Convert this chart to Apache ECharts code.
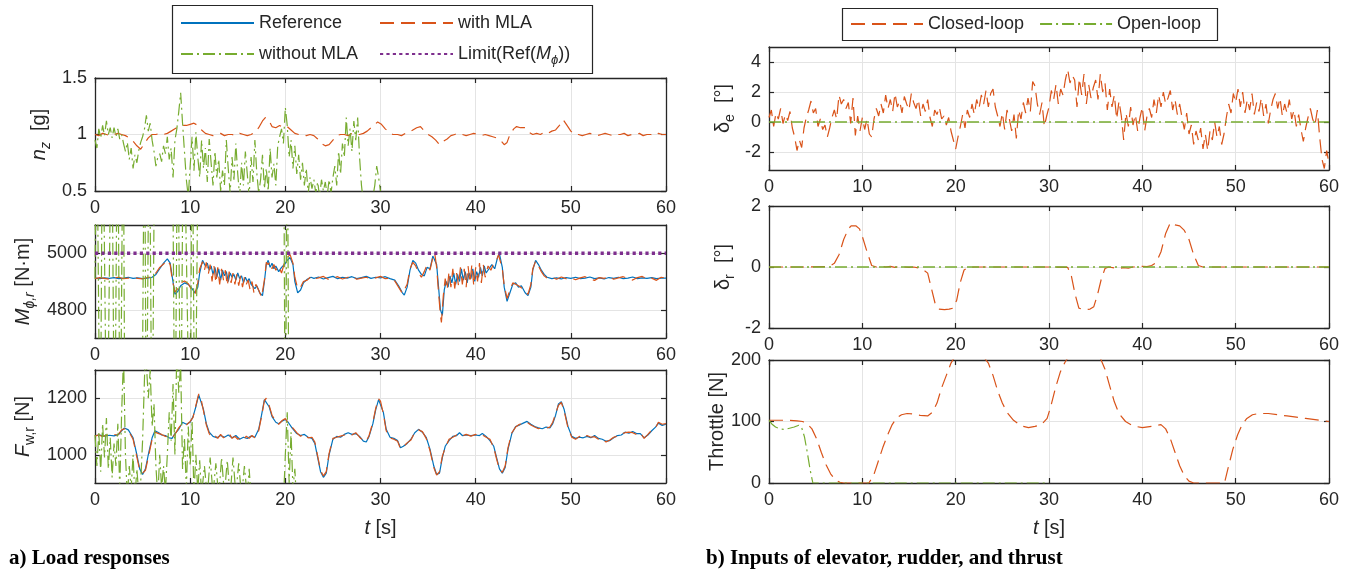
<!DOCTYPE html>
<html>
<head>
<meta charset="utf-8">
<script src="https://cdn.jsdelivr.net/npm/echarts@6/dist/echarts.min.js"></script>
<style>
  html, body { margin: 0; padding: 0; background: #ffffff; }
  #chart { width: 1358px; height: 574px; }
</style>
</head>
<body>
<div id="chart"></div>
<script>
// ---------- time histories [t (s), value] ----------

// normal load factor n_z [g]
const nzWithMLA = [[0,1.00],[0.4,0.99],[0.8,1.01],[1.2,1.00],[1.6,0.99],[2.0,1.00],[2.4,1.01],[2.8,1.00],[3.2,0.99],[3.6,0.97],[4.0,0.94],[4.4,0.90],[4.8,0.87],[5.2,0.92],[5.6,0.97],[6.0,1.00],[6.4,1.00],[6.8,1.01],[7.2,1.00],[7.6,1.01],[8.0,1.03],[8.4,1.05],[8.8,1.07],[9.2,1.08],[9.6,1.08],[10.0,1.09],[10.4,1.10],[10.8,1.08],[11.2,1.04],[11.6,1.01],[12.0,1.00],[12.4,0.99],[12.8,1.00],[13.2,1.01],[13.6,0.99],[14.0,1.00],[14.4,1.00],[14.8,0.99],[15.2,1.01],[15.6,1.00],[16.0,0.99],[16.4,1.00],[16.8,1.02],[17.2,1.06],[17.6,1.12],[17.9,1.15],[18.3,1.12],[18.6,1.07],[19.0,1.06],[19.4,1.08],[19.8,1.06],[20.2,1.07],[20.6,1.04],[21.0,1.01],[21.4,1.00],[21.8,1.00],[22.2,0.99],[22.6,1.00],[23.0,0.99],[23.4,0.96],[23.8,0.92],[24.2,0.90],[24.6,0.91],[25.0,0.95],[25.4,0.99],[25.8,1.00],[26.2,1.00],[26.6,0.99],[27.0,1.01],[27.4,1.00],[27.8,1.00],[28.2,1.01],[28.6,1.03],[29.0,1.06],[29.4,1.09],[29.7,1.11],[30.1,1.09],[30.5,1.05],[30.9,1.02],[31.3,1.00],[31.8,1.00],[32.2,0.99],[32.6,1.01],[33.0,1.02],[33.4,1.04],[33.8,1.06],[34.2,1.07],[34.6,1.03],[35.0,1.00],[35.4,0.98],[35.8,0.95],[36.2,0.91],[36.6,0.94],[37.0,0.96],[37.4,0.99],[37.8,1.00],[38.2,1.01],[38.6,1.00],[39.0,0.99],[39.4,1.00],[39.8,1.01],[40.2,1.00],[40.6,0.99],[41.0,1.00],[41.4,0.99],[41.8,0.98],[42.2,0.97],[42.6,0.95],[43.0,0.91],[43.3,0.93],[43.6,1.00],[44.0,1.05],[44.3,1.07],[44.7,1.06],[45.2,1.06],[45.6,1.02],[46.0,1.00],[46.4,1.01],[46.8,1.00],[47.2,1.02],[47.6,1.01],[48.0,1.03],[48.4,1.04],[48.8,1.08],[49.2,1.13],[49.6,1.08],[50.0,1.03],[50.4,1.00],[50.8,1.00],[51.2,0.99],[51.6,1.00],[52.0,1.01],[52.4,1.00],[52.8,0.99],[53.2,1.00],[53.6,1.01],[54.0,1.00],[54.4,0.99],[54.8,1.00],[55.2,1.00],[55.6,1.01],[56.0,0.99],[56.4,1.00],[56.8,1.00],[57.2,1.01],[57.6,0.99],[58.0,1.00],[58.4,1.00],[58.8,0.99],[59.2,1.01],[59.6,1.00],[60,1.00]];

const nzWithoutMLA = [[0,0.95],[0.2,0.88],[0.4,1.05],[0.6,0.97],[0.8,1.08],[1.0,0.99],[1.2,1.12],[1.4,1.00],[1.6,1.06],[1.8,0.97],[2.0,1.06],[2.2,0.98],[2.4,1.05],[2.6,0.96],[2.8,1.00],[3.0,0.92],[3.2,0.85],[3.4,0.93],[3.6,0.78],[3.8,0.88],[4.0,0.70],[4.2,0.82],[4.4,0.75],[4.6,0.86],[4.8,0.93],[5.0,0.98],[5.2,1.05],[5.4,1.17],[5.6,1.03],[5.8,1.10],[6.0,0.95],[6.2,0.85],[6.4,0.72],[6.6,0.80],[6.8,0.83],[7.0,0.76],[7.2,0.90],[7.4,0.83],[7.6,0.98],[7.8,0.78],[8.0,0.88],[8.2,0.62],[8.4,0.95],[8.6,1.05],[8.8,1.20],[9.0,1.37],[9.2,1.10],[9.4,0.85],[9.6,0.60],[9.8,0.45],[10.0,0.72],[10.2,0.98],[10.4,0.68],[10.6,1.02],[10.8,0.80],[11.0,0.62],[11.2,0.95],[11.4,0.70],[11.6,0.88],[11.8,0.58],[12.0,0.96],[12.2,0.75],[12.4,0.55],[12.6,0.85],[12.8,0.62],[13.0,0.78],[13.2,0.50],[13.4,0.68],[13.6,0.55],[13.8,0.95],[14.0,0.70],[14.2,0.48],[14.4,0.80],[14.6,0.60],[14.8,0.92],[15.0,0.65],[15.2,0.45],[15.4,0.75],[15.6,0.55],[15.8,0.85],[16.0,0.65],[16.2,0.45],[16.4,0.80],[16.6,0.58],[16.8,0.95],[17.0,0.66],[17.2,0.48],[17.4,0.60],[17.6,0.82],[17.8,0.52],[18.0,0.70],[18.2,0.50],[18.4,0.88],[18.6,0.62],[18.8,0.74],[19.0,0.55],[19.2,0.90],[19.4,0.98],[19.6,1.05],[19.8,0.92],[20.0,1.24],[20.2,1.08],[20.4,0.80],[20.6,0.95],[20.8,0.70],[21.0,0.90],[21.2,0.65],[21.4,0.82],[21.6,0.60],[21.8,0.75],[22.0,0.55],[22.2,0.70],[22.4,0.48],[22.6,0.62],[22.8,0.52],[23.0,0.60],[23.2,0.48],[23.4,0.58],[23.6,0.45],[23.8,0.60],[24.0,0.50],[24.2,0.58],[24.4,0.46],[24.6,0.60],[24.8,0.48],[25.0,0.62],[25.2,0.72],[25.4,0.55],[25.6,0.85],[25.8,0.65],[26.0,0.92],[26.2,0.80],[26.4,1.15],[26.6,0.90],[26.8,1.05],[27.0,0.85],[27.2,1.12],[27.4,0.95],[27.6,1.15],[27.8,0.80],[28.0,0.55],[28.2,0.40],[28.4,0.45],[28.6,0.35],[28.8,0.42],[29.0,0.38],[29.2,0.45],[29.4,0.55],[29.6,0.72],[29.8,0.62],[30.0,0.50]];

// roll moment M_phi,r [N·m]
const mReference = [[0,4912],[0.5,4910],[1,4913],[1.5,4911],[2,4914],[2.5,4910],[3,4912],[3.5,4915],[4,4911],[4.5,4913],[5,4910],[5.5,4912],[6,4915],[6.4,4925],[6.8,4945],[7.2,4965],[7.6,4980],[7.9,4965],[8.1,4920],[8.4,4855],[8.7,4865],[9.0,4885],[9.4,4895],[9.8,4890],[10.2,4875],[10.5,4860],[10.8,4880],[11.0,4930],[11.3,4975],[11.6,4955],[11.8,4965],[12.0,4940],[12.2,4955],[12.4,4925],[12.6,4950],[12.8,4915],[13.0,4945],[13.2,4905],[13.4,4940],[13.6,4920],[13.8,4935],[14.0,4900],[14.2,4930],[14.4,4915],[14.6,4925],[14.8,4905],[15.0,4930],[15.2,4910],[15.4,4920],[15.6,4895],[15.8,4915],[16.0,4900],[16.2,4910],[16.4,4890],[16.6,4895],[16.8,4875],[17.0,4885],[17.3,4860],[17.6,4850],[17.8,4900],[18.0,4960],[18.2,4975],[18.4,4950],[18.6,4965],[18.8,4945],[19.0,4955],[19.3,4935],[19.6,4950],[19.9,4960],[20.2,4975],[20.5,4985],[20.8,4960],[21.0,4900],[21.3,4860],[21.6,4870],[21.9,4895],[22.3,4908],[22.7,4915],[23,4911],[23.5,4916],[24,4909],[24.5,4914],[25,4918],[25.5,4910],[26,4915],[26.5,4912],[27,4917],[27.5,4910],[28,4914],[28.5,4918],[29,4911],[29.5,4915],[30,4913],[30.5,4917],[31,4910],[31.5,4905],[31.9,4885],[32.3,4860],[32.5,4852],[32.8,4880],[33.1,4940],[33.4,4975],[33.7,4965],[34.0,4940],[34.3,4925],[34.6,4920],[34.9,4950],[35.2,4945],[35.5,4990],[35.7,4995],[35.9,4960],[36.1,4880],[36.3,4800],[36.5,4780],[36.7,4870],[36.9,4900],[37.1,4880],[37.3,4920],[37.5,4895],[37.7,4930],[37.9,4890],[38.1,4925],[38.3,4900],[38.5,4945],[38.7,4905],[38.9,4935],[39.1,4895],[39.3,4930],[39.5,4910],[39.7,4945],[39.9,4900],[40.1,4935],[40.3,4915],[40.5,4950],[40.7,4920],[40.9,4955],[41.1,4930],[41.4,4945],[41.7,4960],[42.0,4945],[42.3,4985],[42.5,4998],[42.8,4950],[43.0,4880],[43.3,4830],[43.6,4860],[43.9,4890],[44.2,4895],[44.5,4880],[44.8,4885],[45.2,4860],[45.5,4850],[45.8,4880],[46.0,4940],[46.3,4975],[46.6,4960],[46.9,4940],[47.2,4925],[47.5,4915],[48,4910],[48.5,4913],[49,4909],[49.5,4914],[50,4911],[50.5,4915],[51,4910],[51.5,4912],[52,4916],[52.5,4910],[53,4913],[53.5,4909],[54,4914],[54.5,4911],[55,4915],[55.5,4910],[56,4912],[56.5,4916],[57,4910],[57.5,4913],[58,4911],[58.5,4914],[59,4910],[59.5,4912],[60,4912]];

const mWithMLA = [[0,4910],[0.5,4914],[1,4911],[1.5,4908],[2,4913],[2.5,4915],[3,4910],[3.5,4912],[4,4916],[4.5,4911],[5,4909],[5.5,4914],[6,4918],[6.4,4930],[6.8,4950],[7.2,4962],[7.6,4975],[7.9,4960],[8.1,4910],[8.4,4862],[8.7,4875],[9.0,4895],[9.4,4902],[9.8,4892],[10.2,4868],[10.5,4855],[10.8,4895],[11.0,4945],[11.3,4970],[11.5,4940],[11.7,4968],[11.9,4925],[12.1,4960],[12.3,4900],[12.5,4955],[12.7,4895],[12.9,4950],[13.1,4890],[13.3,4945],[13.5,4905],[13.7,4940],[13.9,4885],[14.1,4935],[14.3,4895],[14.5,4930],[14.7,4890],[14.9,4925],[15.1,4885],[15.3,4920],[15.5,4880],[15.7,4915],[15.9,4890],[16.1,4905],[16.3,4870],[16.5,4900],[16.7,4860],[16.9,4890],[17.2,4870],[17.5,4845],[17.8,4905],[18.0,4968],[18.2,4960],[18.4,4970],[18.6,4945],[18.8,4960],[19.0,4940],[19.3,4955],[19.6,4930],[19.9,4965],[20.2,4985],[20.5,4995],[20.8,4965],[21.0,4915],[21.3,4875],[21.6,4880],[21.9,4900],[22.3,4905],[22.7,4918],[23,4909],[23.5,4913],[24,4918],[24.5,4908],[25,4912],[25.5,4917],[26,4909],[26.5,4914],[27,4920],[27.5,4908],[28,4912],[28.5,4915],[29,4909],[29.5,4913],[30,4918],[30.5,4910],[31,4912],[31.5,4902],[31.9,4880],[32.3,4858],[32.5,4860],[32.8,4890],[33.1,4945],[33.4,4968],[33.7,4955],[34.0,4930],[34.3,4915],[34.6,4935],[34.9,4960],[35.2,4940],[35.5,4985],[35.7,5000],[35.9,4950],[36.1,4860],[36.3,4780],[36.4,4755],[36.6,4850],[36.8,4910],[37.0,4870],[37.2,4935],[37.4,4880],[37.6,4945],[37.8,4875],[38.0,4930],[38.2,4885],[38.4,4950],[38.6,4890],[38.8,4945],[39.0,4880],[39.2,4955],[39.4,4895],[39.6,4960],[39.8,4885],[40.0,4950],[40.2,4900],[40.4,4965],[40.6,4895],[40.8,4960],[41.0,4915],[41.3,4955],[41.6,4940],[41.9,4965],[42.2,4975],[42.4,4995],[42.6,4990],[42.8,4945],[43.0,4885],[43.3,4840],[43.6,4870],[43.9,4895],[44.2,4890],[44.5,4885],[44.8,4878],[45.2,4865],[45.5,4855],[45.8,4890],[46.0,4945],[46.3,4972],[46.6,4955],[46.9,4935],[47.2,4920],[47.5,4912],[48,4915],[48.5,4908],[49,4916],[49.5,4910],[50,4914],[50.5,4906],[51,4913],[51.5,4917],[52,4909],[52.5,4904],[53,4914],[53.5,4911],[54,4918],[54.5,4908],[55,4913],[55.5,4917],[56,4910],[56.5,4905],[57,4914],[57.5,4918],[58,4909],[58.5,4912],[59,4904],[59.5,4915],[60,4912]];

const mWithoutMLA = [[0,4910],[0.16,5600],[0.55,4200],[0.8,5600],[1.26,4200],[1.74,5600],[2.06,4200],[2.37,5600],[2.65,4200],[2.96,5600],[3.16,4200],[4.9,4150],[5.2,5600],[5.4,4200],[5.7,5600],[6.0,4200],[6.3,5600],[8.1,5650],[8.4,4200],[8.7,5600],[9.0,4200],[9.3,5600],[10.0,4200],[10.2,5600],[10.5,4200],[10.9,5600],[19.8,5650],[20.0,4200],[20.2,5600],[20.4,4200],[21.0,4100]];

const mLimit = [[0,5000],[60,5000]];

// wing root force F_w,r [N]
const fReference = [[0,1068],[0.5,1070],[1,1066],[1.5,1069],[2,1067],[2.5,1072],[2.8,1085],[3.1,1095],[3.5,1088],[4.0,1060],[4.4,1000],[4.7,950],[5.0,930],[5.3,950],[5.6,1000],[6.0,1060],[6.3,1085],[6.7,1078],[7.0,1070],[7.4,1068],[7.8,1060],[8.1,1058],[8.4,1075],[8.8,1090],[9.2,1115],[9.6,1108],[10.0,1115],[10.3,1135],[10.6,1170],[10.9,1212],[11.1,1210],[11.4,1160],[11.7,1110],[12.0,1080],[12.4,1065],[12.8,1060],[13.2,1068],[13.6,1062],[14.0,1070],[14.4,1060],[14.8,1068],[15.2,1055],[15.6,1062],[16.0,1058],[16.4,1066],[16.8,1062],[17.2,1090],[17.5,1140],[17.8,1195],[18.0,1198],[18.3,1170],[18.6,1135],[19.0,1115],[19.3,1110],[19.7,1120],[20.0,1125],[20.3,1115],[20.7,1095],[21.2,1075],[21.6,1068],[22.0,1072],[22.4,1062],[22.8,1058],[23.1,1040],[23.4,990],[23.7,940],[24.0,920],[24.3,935],[24.6,1000],[25.0,1055],[25.4,1065],[25.8,1062],[26.2,1072],[26.6,1078],[27.0,1072],[27.4,1075],[27.8,1065],[28.2,1048],[28.5,1045],[28.8,1065],[29.2,1110],[29.5,1160],[29.8,1195],[30.0,1193],[30.3,1150],[30.6,1090],[31.0,1062],[31.4,1058],[31.8,1050],[32.1,1025],[32.4,1030],[32.8,1040],[33.2,1055],[33.6,1078],[34.0,1090],[34.4,1080],[34.8,1062],[35.2,1020],[35.6,960],[35.9,930],[36.2,935],[36.5,990],[36.8,1030],[37.2,1050],[37.6,1065],[38.0,1068],[38.3,1078],[38.6,1068],[39.0,1070],[39.5,1068],[40.0,1070],[40.4,1068],[40.7,1075],[41.1,1065],[41.5,1050],[41.9,1030],[42.2,990],[42.5,950],[42.8,935],[43.1,955],[43.4,1020],[43.8,1075],[44.2,1100],[44.6,1105],[45.0,1112],[45.4,1118],[45.8,1108],[46.2,1100],[46.6,1095],[47.0,1092],[47.4,1098],[47.8,1095],[48.1,1110],[48.4,1140],[48.7,1180],[49.0,1188],[49.3,1160],[49.7,1100],[50.1,1065],[50.5,1058],[50.9,1062],[51.3,1060],[51.7,1065],[52.1,1060],[52.5,1068],[52.9,1058],[53.3,1055],[53.7,1048],[54.1,1050],[54.5,1060],[54.9,1068],[55.3,1070],[55.7,1080],[56.1,1076],[56.5,1082],[56.9,1075],[57.3,1075],[57.7,1060],[58.1,1070],[58.5,1085],[58.9,1098],[59.2,1112],[59.6,1104],[60,1108]];

const fWithMLA = [[0,1066],[0.4,1071],[0.8,1064],[1.2,1070],[1.6,1066],[2.0,1072],[2.4,1069],[2.8,1088],[3.1,1092],[3.5,1085],[4.0,1055],[4.4,992],[4.7,945],[5.0,935],[5.3,945],[5.6,990],[6.0,1055],[6.3,1080],[6.7,1075],[7.0,1072],[7.4,1065],[7.8,1062],[8.1,1060],[8.4,1072],[8.8,1095],[9.2,1112],[9.6,1105],[10.0,1118],[10.3,1132],[10.6,1175],[10.9,1215],[11.1,1205],[11.4,1155],[11.7,1105],[12.0,1075],[12.3,1062],[12.6,1068],[12.9,1058],[13.2,1072],[13.5,1060],[13.8,1068],[14.1,1075],[14.4,1058],[14.7,1065],[15.0,1055],[15.3,1060],[15.6,1052],[15.9,1066],[16.2,1058],[16.5,1068],[16.8,1060],[17.2,1085],[17.5,1135],[17.8,1192],[18.0,1200],[18.3,1175],[18.6,1140],[19.0,1118],[19.3,1108],[19.7,1122],[20.0,1128],[20.3,1112],[20.7,1098],[21.2,1078],[21.6,1065],[22.0,1075],[22.4,1060],[22.8,1062],[23.1,1045],[23.4,995],[23.7,945],[24.0,925],[24.3,940],[24.6,1005],[25.0,1058],[25.4,1062],[25.8,1066],[26.2,1070],[26.6,1075],[27.0,1070],[27.4,1078],[27.8,1062],[28.2,1050],[28.5,1048],[28.8,1068],[29.2,1115],[29.5,1165],[29.8,1198],[30.0,1190],[30.3,1145],[30.6,1085],[31.0,1060],[31.4,1055],[31.8,1048],[32.1,1022],[32.4,1028],[32.8,1042],[33.2,1052],[33.6,1080],[34.0,1088],[34.4,1082],[34.8,1058],[35.2,1015],[35.6,955],[35.9,928],[36.2,940],[36.5,995],[36.8,1025],[37.2,1055],[37.6,1062],[38.0,1070],[38.3,1072],[38.6,1066],[39.0,1072],[39.5,1066],[40.0,1072],[40.4,1066],[40.7,1070],[41.1,1062],[41.5,1055],[41.9,1025],[42.2,985],[42.5,948],[42.8,938],[43.1,960],[43.4,1025],[43.8,1078],[44.2,1098],[44.6,1108],[45.0,1110],[45.4,1115],[45.8,1105],[46.2,1098],[46.6,1092],[47.0,1096],[47.4,1094],[47.8,1098],[48.1,1115],[48.4,1145],[48.7,1175],[49.0,1185],[49.3,1155],[49.7,1095],[50.1,1062],[50.5,1055],[50.9,1065],[51.3,1058],[51.7,1068],[52.1,1062],[52.5,1064],[52.9,1055],[53.3,1058],[53.7,1045],[54.1,1052],[54.5,1062],[54.9,1066],[55.3,1074],[55.7,1078],[56.1,1080],[56.5,1078],[56.9,1072],[57.3,1078],[57.7,1058],[58.1,1072],[58.5,1088],[58.9,1095],[59.2,1115],[59.6,1108],[60,1110]];

const fWithoutMLA = [[0,1070],[0.2,960],[0.4,1080],[0.6,940],[0.8,1110],[1.0,990],[1.2,1130],[1.4,950],[1.6,1060],[1.8,920],[2.0,1040],[2.2,960],[2.4,1110],[2.6,880],[2.8,1150],[3.0,1350],[3.2,1000],[3.4,850],[3.6,960],[3.8,880],[4.0,1000],[4.2,850],[4.4,950],[4.6,860],[4.8,900],[5.0,1050],[5.3,1380],[5.6,1200],[5.8,1300],[6.0,1100],[6.2,1180],[6.4,960],[6.6,850],[6.8,1000],[7.0,880],[7.2,960],[7.4,870],[7.6,1000],[7.8,1150],[8.0,1050],[8.2,1250],[8.4,1000],[8.6,1380],[8.8,1220],[9.0,1320],[9.2,950],[9.4,1060],[9.6,880],[9.8,1100],[10.0,960],[10.2,1120],[10.4,860],[10.6,1000],[10.8,870],[11.0,980],[11.2,860],[11.5,960],[11.8,850],[12.1,990],[12.4,860],[12.7,970],[13.0,850],[13.3,990],[13.6,860],[13.9,980],[14.2,850],[14.5,990],[14.8,860],[15.1,970],[15.4,850],[15.7,960],[16.0,850],[16.2,950],[16.4,850],[17.0,820],[19.8,830],[20.0,1000],[20.2,1150],[20.4,900],[20.6,1080],[20.8,880],[21.0,950],[21.2,820]];

// elevator deflection, closed loop, sampled every 0.25 s from t = 0
const deStep = 0.25;
const deClosed = [
  0.3, 0.8, -0.3, 0.6,   0.2, 0.9, -0.1, 0.5,   0.1, 0.7, -0.4, -1.0,  -1.9, -1.2, -1.7, -0.4,
  0.3, 0.8, 1.4, 0.6,    0.9, -0.3, 0.2, -0.5,  -0.2, -1.0, -0.4, 0.3,  0.8, 0.2, 1.8, 1.2,
  1.5, 0.9, 1.3, -0.1,   1.6, -0.9, 0.4, -0.6,  0.3, -0.5, 0.2, -0.8,  -1.0, 0.2, 0.9, 0.4,
  1.2, 0.6, 1.8, 0.9,    1.5, 0.7, 1.9, 1.0,    1.4, 0.6, 1.7, 1.2,    0.8, 1.9, 1.3, 0.9,
  1.5, 0.4, 1.2, 0.7,    1.5, 0.3, -0.3, 0.8,   0.5, 1.0, 0.2, 0.4,    -0.2, 0.3, -0.6, -1.2,
  -1.8, -1.0, -0.3, 0.5, -0.4, 0.8, 0.3, 1.2,   0.5, 1.5, 0.9, 1.8,    1.2, 2.1, 1.0, 1.9,
  2.2, 1.0, 0.4, -0.3,   0.6, -0.5, 0.8, 0.2,   -0.6, 0.5, -1.1, 0.8,  0.2, 1.3, 0.6, 1.6,
  0.7, 2.7, 2.4, 1.2,    0.5, 1.3, -0.3, 0.4,   1.0, 2.1, 1.5, 2.5,    1.2, 2.2, 1.8, 2.8,
  3.5, 2.6, 3.1, 2.8,    1.0, 2.9, 1.8, 3.2,    1.2, 2.5, 1.6, 2.3,    2.8, 1.5, 3.2, 2.0,
  2.6, 0.8, 2.2, 1.0,    1.8, 0.2, 1.4, 0.4,    -1.2, 0.6, -0.3, 1.0,  -0.2, 0.5, -0.6, 0.3,
  1.0, -0.6, 0.4, 0.9,   0.3, 1.5, 0.6, 1.8,    1.0, 2.0, 1.2, 1.6,    2.1, 0.8, 1.5, 0.5,
  1.2, 0.3, -0.5, 0.6,   -0.8, -0.2, -1.5, -0.6, -1.2, -0.4, -1.8, -0.8, -1.9, -0.6, -1.2, 0.0,
  -1.0, -0.3, -1.5, -0.8, 0.3, 1.2, 0.6, 1.9,   1.3, 2.2, 1.0, 2.0,    0.6, 1.5, 0.8, 1.9,
  0.5, 1.3, 0.7, 1.6,    0.4, 1.2, -0.1, 0.8,   1.5, 1.9, 0.9, 1.6,    0.4, 1.2, 0.6, 1.5,
  0.2, 0.8, -0.3, 0.5,   -0.5, -1.3, -0.4, 0.3, 0.9, 0.2, -0.2, 0.8,   -1.0, -2.5, -3.1, -1.9,
  -2.8
];
const deOpen = [[0,0],[60,0]];

// rudder deflection [deg]
const drClosed = [[0,0],[2,0],[4,0],[6,0.01],[6.5,0.03],[7,0.12],[7.5,0.4],[8,0.9],[8.5,1.25],[8.8,1.35],[9.3,1.35],[9.7,1.25],[10,1.0],[10.5,0.5],[11,0.05],[11.5,0.0],[12,0.03],[12.5,0],[13,0.02],[13.5,-0.01],[14,0.02],[14.5,0],[15,-0.01],[15.5,0],[16,-0.03],[16.5,-0.08],[17,-0.2],[17.4,-0.7],[17.8,-1.2],[18.2,-1.38],[18.8,-1.4],[19.3,-1.38],[19.7,-1.35],[20.1,-1.1],[20.5,-0.5],[20.9,-0.1],[21.3,-0.02],[22,0],[26,0],[30,0],[32,-0.01],[32.4,-0.3],[32.8,-0.9],[33.2,-1.35],[33.8,-1.4],[34.4,-1.38],[34.8,-1.3],[35.2,-0.9],[35.6,-0.4],[36,-0.05],[36.4,0],[37,-0.03],[37.5,-0.05],[38,-0.02],[38.5,-0.04],[39,0],[40,0.02],[40.5,0.01],[41,0.05],[41.5,0.15],[42,0.5],[42.5,1.1],[43,1.45],[43.5,1.38],[44,1.35],[44.5,1.2],[45,0.9],[45.5,0.4],[46,0.05],[46.5,0],[60,0]];
const drOpen = [[0,0],[60,0]];

// throttle [N]
const thrClosed = [[0,102],[1,102],[2,102],[3,101],[3.6,100],[4.1,96],[4.6,88],[5.1,72],[5.6,50],[6.1,30],[6.6,15],[7.1,5],[7.6,1],[8,0],[10.7,0],[11.2,12],[11.7,35],[12.2,58],[12.7,78],[13.2,95],[13.7,106],[14.2,111],[14.8,113],[15.5,112],[16.2,110],[17,109],[17.5,115],[18,130],[18.5,155],[19,175],[19.5,195],[20,208],[21.5,215],[23,205],[23.5,195],[24,175],[24.5,150],[25,130],[25.5,115],[26.2,102],[27,93],[27.8,90],[28.5,92],[29.2,95],[29.8,105],[30.2,125],[30.7,155],[31.2,180],[31.7,196],[32.2,208],[34,215],[35.5,203],[36,185],[36.5,158],[37,132],[37.5,113],[38.2,100],[39,93],[40,90],[41,92],[42,95],[42.5,88],[43,72],[43.5,50],[44,28],[44.5,12],[45,3],[45.5,0],[48.8,0],[49.2,25],[49.7,55],[50.2,78],[50.7,95],[51.2,105],[51.8,111],[52.5,113],[53.5,113],[54.5,111],[55.5,109],[56.5,107],[57.5,105],[58.5,103],[59.5,101],[60,100]];
const thrOpen = [[0,102],[0.3,96],[0.7,91],[1.2,88],[1.7,87],[2.2,89],[2.7,91],[3.2,94],[3.5,90],[3.8,75],[4.1,50],[4.4,22],[4.7,0],[30,0]];

// ---------- styling ----------
const FONT = '"Liberation Sans", Arial, Helvetica, sans-serif';
const INK = '#262626';
const GRIDLINE = '#e4e4e4';
const C_REF = '#0072BD', C_WITH = '#D95319', C_WO = '#77AC30', C_LIM = '#7E2F8E';
const DASH = [14, 7];
const DASHDOT = [12, 4, 2, 4];
const LIMIT_NAME = 'Limit(Ref(Mϕ))';

// rich styles for axis names: main text centred, subscript dropped to the bottom of a taller box
const nameRich = {
  n:  { fontSize: 20, fontFamily: FONT, color: INK },
  i:  { fontSize: 20, fontFamily: FONT, color: INK, fontStyle: 'italic' },
  s:  { fontSize: 14, fontFamily: FONT, color: INK, lineHeight: 28, verticalAlign: 'bottom' },
  si: { fontSize: 14, fontFamily: FONT, color: INK, fontStyle: 'italic', lineHeight: 28, verticalAlign: 'bottom' }
};

const panels = [
  { left: 95,  top: 78,  width: 571, height: 113, min: 0.5,  max: 1.5,  interval: 0.5,
    name: '{i|n}{si|z}{n|  [g]}', nameGap: 42 },
  { left: 95,  top: 225, width: 571, height: 113, min: 4700, max: 5100, ticks: [4800, 5000],
    name: '{i|M}{si|ϕ,r}{n| [N·m]}', nameGap: 58 },
  { left: 95,  top: 370, width: 571, height: 113, min: 900,  max: 1300, ticks: [1000, 1200],
    name: '{i|F}{s|w,r}{n| [N]}', nameGap: 58, xName: true },
  { left: 769, top: 47,  width: 560, height: 123, min: -3.2, max: 5,    ticks: [-2, 0, 2, 4],
    name: '{n|δ}{s|e}{n|  [°]}', nameGap: 32 },
  { left: 769, top: 206, width: 560, height: 122, min: -2,   max: 2,    interval: 2,
    name: '{n|δ}{s|r}{n|  [°]}', nameGap: 32 },
  { left: 769, top: 360, width: 560, height: 123, min: 0,    max: 200,  interval: 100,
    name: '{n|Throttle [N]}', nameGap: 42, xName: true }
];

const grids = [], xAxes = [], yAxes = [];
const axisLine = { show: true, onZero: false, lineStyle: { color: INK, width: 1.3 } };
const tickStyle = { color: INK, width: 1.2 };
const plainNumber = v => String(v);

panels.forEach((p, i) => {
  grids.push({ left: p.left, top: p.top, width: p.width, height: p.height });
  // bottom x axis with labels and vertical grid lines
  xAxes.push({
    type: 'value', gridIndex: i, position: 'bottom', min: 0, max: 60, interval: 10,
    axisLine, axisTick: { show: true, inside: true, length: 5, lineStyle: tickStyle },
    axisLabel: { show: true, margin: 8, color: INK, fontSize: 18, fontFamily: FONT },
    splitLine: { show: true, lineStyle: { color: GRIDLINE, width: 1 } },
    name: p.xName ? '{i|t}{n| [s]}' : '', nameLocation: 'middle', nameGap: 35,
    nameTextStyle: { rich: nameRich }
  });
  // top x axis closing the box
  xAxes.push({
    type: 'value', gridIndex: i, position: 'top', min: 0, max: 60, interval: 10,
    axisLine, axisTick: { show: true, inside: true, length: 5, lineStyle: tickStyle },
    axisLabel: { show: false }, splitLine: { show: false }
  });
  const tickOpt = p.ticks ? { customValues: p.ticks } : {};
  const yBase = { type: 'value', gridIndex: i, min: p.min, max: p.max };
  if (p.interval) yBase.interval = p.interval;
  yAxes.push(Object.assign({}, yBase, {
    position: 'left', axisLine,
    axisTick: Object.assign({ show: true, inside: true, length: 5, lineStyle: tickStyle }, tickOpt),
    axisLabel: Object.assign({ show: true, margin: 8, color: INK, fontSize: 18, fontFamily: FONT, formatter: plainNumber }, tickOpt),
    splitLine: { show: true, lineStyle: { color: GRIDLINE, width: 1 } },
    name: p.name, nameLocation: 'middle', nameGap: p.nameGap, nameRotate: 90,
    nameTextStyle: { rich: nameRich }
  }));
  yAxes.push(Object.assign({}, yBase, {
    position: 'right', axisLine,
    axisTick: Object.assign({ show: true, inside: true, length: 5, lineStyle: tickStyle }, tickOpt),
    axisLabel: { show: false }, splitLine: { show: false }
  }));
});

function line(name, panel, data, color, type, width) {
  return {
    name, type: 'line', data, xAxisIndex: panel * 2, yAxisIndex: panel * 2,
    showSymbol: false, symbol: 'none', clip: true, animation: false, silent: true,
    lineStyle: { color, type, width }, itemStyle: { color }
  };
}

const deSeries = deClosed.map((v, k) => [k * deStep, v]);

const series = [
  line('Reference',   1, mReference, C_REF, 'solid', 1.2),
  line('Reference',   2, fReference, C_REF, 'solid', 1.2),
  line('with MLA',    0, nzWithMLA,  C_WITH, DASH, 1.2),
  line('with MLA',    1, mWithMLA,   C_WITH, DASH, 1.2),
  line('with MLA',    2, fWithMLA,   C_WITH, DASH, 1.2),
  line('without MLA', 0, nzWithoutMLA, C_WO, DASHDOT, 1.2),
  line('without MLA', 1, mWithoutMLA,  C_WO, DASHDOT, 1.2),
  line('without MLA', 2, fWithoutMLA,  C_WO, DASHDOT, 1.2),
  line(LIMIT_NAME,    1, mLimit, C_LIM, [3.2, 3.2], 3.5),
  line('Closed-loop', 3, deSeries,  C_WITH, DASH, 1.2),
  line('Closed-loop', 4, drClosed,  C_WITH, DASH, 1.2),
  line('Closed-loop', 5, thrClosed, C_WITH, DASH, 1.2),
  line('Open-loop',   3, deOpen,  C_WO, DASHDOT, 1.4),
  line('Open-loop',   4, drOpen,  C_WO, DASHDOT, 1.4),
  line('Open-loop',   5, thrOpen, C_WO, DASHDOT, 1.2)
];

const legendText = {
  fontSize: 18, fontFamily: FONT, color: INK,
  rich: {
    n: { fontSize: 18, fontFamily: FONT, color: INK },
    i: { fontSize: 18, fontFamily: FONT, color: INK, fontStyle: 'italic' },
    s: { fontSize: 13, fontFamily: FONT, color: INK, fontStyle: 'italic', lineHeight: 26, verticalAlign: 'bottom' }
  }
};
const legendFormatter = name => name === LIMIT_NAME
  ? '{n|Limit(Ref(}{i|M}{s|ϕ}{n|))}' : '{n|' + name + '}';

const legendBase = {
  itemWidth: 73, itemHeight: 14, selectedMode: false,
  itemStyle: { opacity: 0, borderWidth: 0 },
  textStyle: legendText, formatter: legendFormatter, padding: 0
};

const option = {
  backgroundColor: '#ffffff',
  animation: false,
  grid: grids,
  xAxis: xAxes,
  yAxis: yAxes,
  legend: [
    Object.assign({}, legendBase, { data: ['Reference', 'without MLA'], orient: 'vertical', left: 180, top: 14, itemGap: 13 }),
    Object.assign({}, legendBase, { data: ['with MLA', LIMIT_NAME], orient: 'vertical', left: 379, top: 14, itemGap: 13 }),
    Object.assign({}, legendBase, { data: ['Closed-loop', 'Open-loop'], orient: 'horizontal', left: 850, top: 15, itemWidth: 72, itemGap: 15 })
  ],
  graphic: [
    { type: 'rect', z: 0, shape: { x: 172.5, y: 5.5, width: 420, height: 68 },
      style: { fill: '#ffffff', stroke: INK, lineWidth: 1.2 } },
    { type: 'rect', z: 0, shape: { x: 842.5, y: 8.5, width: 375, height: 32 },
      style: { fill: '#ffffff', stroke: INK, lineWidth: 1.2 } },
    { type: 'text', left: 9, top: 548,
      style: { text: 'a) Load responses', fontFamily: '"Liberation Serif", "Times New Roman", serif', fontWeight: 'bold', fontSize: 21, fill: '#000000' } },
    { type: 'text', left: 706, top: 548,
      style: { text: 'b) Inputs of elevator, rudder, and thrust', fontFamily: '"Liberation Serif", "Times New Roman", serif', fontWeight: 'bold', fontSize: 21, fill: '#000000' } }
  ],
  series
};

const chart = echarts.init(document.getElementById('chart'), null, { renderer: 'canvas' });
chart.setOption(option);
</script>
</body>
</html>
